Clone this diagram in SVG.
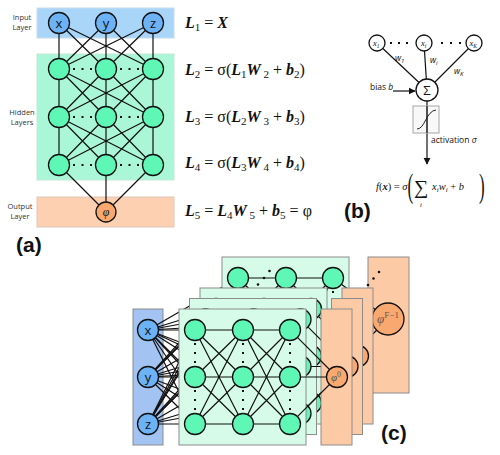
<svg xmlns="http://www.w3.org/2000/svg" xmlns:xlink="http://www.w3.org/1999/xlink" width="500" height="455" viewBox="0 0 500 455">
<style>
.ln{stroke:#111;stroke-width:1.2;fill:none}
.inbox{fill:#a9d5f8;stroke:#c9dcea;stroke-width:1}
.hbox{fill:#a9f7d7;stroke:#c8e8da;stroke-width:1}
.obox{fill:#fdd0b1;stroke:#e0c8b8;stroke-width:1}
.bnode{fill:#6cb2f4;stroke:#111;stroke-width:1.3}
.gnode{fill:#5ef7b6;stroke:#111;stroke-width:1.3}
.onode{fill:#f9a96f;stroke:#111;stroke-width:1.3}
.wnode{fill:#fff;stroke:#111;stroke-width:1.3}
.gb{fill:#d6fce9;stroke:#8c8c8c;stroke-width:1}
.ob{fill:#fdcaa6;stroke:#8c8c8c;stroke-width:1}
.cin{fill:#a3c3f3;stroke:#8c8c8c;stroke-width:1}
.side{font-family:"Open Sans","Liberation Sans",sans-serif;font-size:7.5px;fill:#333;text-anchor:middle}
.nl{font-family:"Open Sans","Liberation Sans",sans-serif;font-size:13px;fill:#111;text-anchor:middle}
.eq{font-family:"Liberation Serif",serif;font-size:16px;fill:#111}
.bi{font-weight:bold;font-style:italic}
.lab{font-family:"Liberation Sans",Arial,sans-serif;font-weight:bold;font-size:21px;fill:#111}
.sm{font-family:"Open Sans","Liberation Sans",sans-serif;font-size:8.5px;fill:#111}
.mi{font-family:"Liberation Serif",serif;font-style:italic;fill:#111}
.dot{fill:#111}
</style>
<defs>
<marker id="arr" viewBox="0 0 10 10" refX="9" refY="5" markerWidth="6" markerHeight="6" orient="auto">
<path d="M0,0L10,5L0,10z" fill="#111"/>
</marker>
<g id="lg">
<rect x="0" y="0" width="127" height="136" class="gb"/>
<path class="ln" d="M16,21L64,21M16,21L64,68M16,21L64,115M16,68L64,21M16,68L64,68M16,68L64,115M16,115L64,21M16,115L64,68M16,115L64,115M64,21L111,21M64,21L111,68M64,21L111,115M64,68L111,21M64,68L111,68M64,68L111,115M64,115L111,21M64,115L111,68M64,115L111,115"/>
<circle cx="16" cy="21" r="10.5" class="gnode"/><circle cx="64" cy="21" r="10.5" class="gnode"/><circle cx="111" cy="21" r="10.5" class="gnode"/>
<circle cx="16" cy="68" r="10.5" class="gnode"/><circle cx="64" cy="68" r="10.5" class="gnode"/><circle cx="111" cy="68" r="10.5" class="gnode"/>
<circle cx="16" cy="115" r="10.5" class="gnode"/><circle cx="64" cy="115" r="10.5" class="gnode"/><circle cx="111" cy="115" r="10.5" class="gnode"/>
<g class="dot">
<rect x="15" y="34" width="2" height="2"/><rect x="15" y="43" width="2" height="2"/><rect x="15" y="52" width="2" height="2"/>
<rect x="15" y="81" width="2" height="2"/><rect x="15" y="90" width="2" height="2"/><rect x="15" y="99" width="2" height="2"/>
<rect x="63" y="34" width="2" height="2"/><rect x="63" y="43" width="2" height="2"/><rect x="63" y="52" width="2" height="2"/>
<rect x="63" y="81" width="2" height="2"/><rect x="63" y="90" width="2" height="2"/><rect x="63" y="99" width="2" height="2"/>
<rect x="110" y="34" width="2" height="2"/><rect x="110" y="43" width="2" height="2"/><rect x="110" y="52" width="2" height="2"/>
<rect x="110" y="81" width="2" height="2"/><rect x="110" y="90" width="2" height="2"/><rect x="110" y="99" width="2" height="2"/>
</g>
</g>
<g id="lo">
<rect x="142" y="0" width="31" height="136" class="ob"/>
<path class="ln" d="M118.4,28.4L158,68M121.5,68L158,68M118.4,107.6L158,68"/>
<circle cx="158" cy="68" r="10.5" class="onode"/>
</g>
</defs>
<rect width="500" height="455" fill="#fff"/>

<!-- Panel (a) -->
<g id="a-boxes">
<rect x="37" y="8" width="137" height="30" class="inbox"/>
<rect x="37" y="54" width="137" height="126" class="hbox"/>
<rect x="37" y="197" width="137" height="30" class="obox"/>
<text class="side" x="22" y="19.5">Input</text><text class="side" x="22" y="30">Layer</text>
<text class="side" x="22" y="114.5">Hidden</text><text class="side" x="22" y="124.5">Layers</text>
<text class="side" x="20" y="209">Output</text><text class="side" x="20" y="219">Layer</text>
</g>
<g id="a-connectors">
<path class="ln" d="M59,23L59,69M59,23L106,69M59,23L153,69M106,23L59,69M106,23L106,69M106,23L153,69M153,23L59,69M153,23L106,69M153,23L153,69
M59,69L59,117M59,69L106,117M59,69L153,117M106,69L59,117M106,69L106,117M106,69L153,117M153,69L59,117M153,69L106,117M153,69L153,117
M59,117L59,165M59,117L106,165M59,117L153,165M106,117L59,165M106,117L106,165M106,117L153,165M153,117L59,165M153,117L106,165M153,117L153,165
M59,165L106,212M106,165L106,212M153,165L106,212"/>
</g>
<g id="a-in-x"><circle cx="59" cy="23" r="10.5" class="bnode"/><text class="nl" x="59" y="27.5">x</text></g>
<g id="a-in-y"><circle cx="106" cy="23" r="10.5" class="bnode"/><text class="nl" x="106" y="27.5">y</text></g>
<g id="a-in-z"><circle cx="153" cy="23" r="10.5" class="bnode"/><text class="nl" x="153" y="27.5">z</text></g>
<g id="a-hidden">
<circle cx="59" cy="69" r="10.5" class="gnode"/><circle cx="106" cy="69" r="10.5" class="gnode"/><circle cx="153" cy="69" r="10.5" class="gnode"/>
<circle cx="59" cy="117" r="10.5" class="gnode"/><circle cx="106" cy="117" r="10.5" class="gnode"/><circle cx="153" cy="117" r="10.5" class="gnode"/>
<circle cx="59" cy="165" r="10.5" class="gnode"/><circle cx="106" cy="165" r="10.5" class="gnode"/><circle cx="153" cy="165" r="10.5" class="gnode"/>
<g class="dot">
<rect x="73" y="68" width="2" height="2"/><rect x="81.5" y="68" width="2" height="2"/><rect x="90" y="68" width="2" height="2"/>
<rect x="120" y="68" width="2" height="2"/><rect x="128.5" y="68" width="2" height="2"/><rect x="137" y="68" width="2" height="2"/>
<rect x="73" y="116" width="2" height="2"/><rect x="81.5" y="116" width="2" height="2"/><rect x="90" y="116" width="2" height="2"/>
<rect x="120" y="116" width="2" height="2"/><rect x="128.5" y="116" width="2" height="2"/><rect x="137" y="116" width="2" height="2"/>
<rect x="73" y="164" width="2" height="2"/><rect x="81.5" y="164" width="2" height="2"/><rect x="90" y="164" width="2" height="2"/>
<rect x="120" y="164" width="2" height="2"/><rect x="128.5" y="164" width="2" height="2"/><rect x="137" y="164" width="2" height="2"/>
</g>
</g>
<g id="a-out"><circle cx="106" cy="212" r="10" class="onode"/><text class="mi" x="106" y="216" font-size="12" text-anchor="middle">φ</text></g>
<g id="a-eqs" class="eq">
<text x="185" y="28"><tspan class="bi">L</tspan><tspan font-size="11" dy="3">1</tspan><tspan dy="-3"> = </tspan><tspan class="bi">X</tspan></text>
<text x="185" y="75"><tspan class="bi">L</tspan><tspan font-size="11" dy="3">2</tspan><tspan dy="-3"> = σ(</tspan><tspan class="bi">L</tspan><tspan font-size="11" dy="3">1</tspan><tspan class="bi" dy="-3">W</tspan><tspan font-size="11" dy="3"> 2</tspan><tspan dy="-3"> + </tspan><tspan class="bi">b</tspan><tspan font-size="11" dy="3">2</tspan><tspan dy="-3">)</tspan></text>
<text x="185" y="122"><tspan class="bi">L</tspan><tspan font-size="11" dy="3">3</tspan><tspan dy="-3"> = σ(</tspan><tspan class="bi">L</tspan><tspan font-size="11" dy="3">2</tspan><tspan class="bi" dy="-3">W</tspan><tspan font-size="11" dy="3"> 3</tspan><tspan dy="-3"> + </tspan><tspan class="bi">b</tspan><tspan font-size="11" dy="3">3</tspan><tspan dy="-3">)</tspan></text>
<text x="185" y="168"><tspan class="bi">L</tspan><tspan font-size="11" dy="3">4</tspan><tspan dy="-3"> = σ(</tspan><tspan class="bi">L</tspan><tspan font-size="11" dy="3">3</tspan><tspan class="bi" dy="-3">W</tspan><tspan font-size="11" dy="3"> 4</tspan><tspan dy="-3"> + </tspan><tspan class="bi">b</tspan><tspan font-size="11" dy="3">4</tspan><tspan dy="-3">)</tspan></text>
<text x="185" y="216"><tspan class="bi">L</tspan><tspan font-size="11" dy="3">5</tspan><tspan dy="-3"> =  </tspan><tspan class="bi">L</tspan><tspan font-size="11" dy="3">4</tspan><tspan class="bi" dy="-3">W</tspan><tspan font-size="11" dy="3"> 5</tspan><tspan dy="-3"> +  </tspan><tspan class="bi">b</tspan><tspan font-size="11" dy="3">5</tspan><tspan dy="-3"> =  φ</tspan></text>
</g>
<text class="lab" x="16" y="252">(a)</text>

<!-- Panel (b) -->
<g id="b-connectors">
<path class="ln" d="M377,43L427,90M424,43L427,90M474,43L427,90"/>
<path class="ln" d="M393,91L415,91" marker-end="url(#arr)"/>
<path class="ln" d="M427,101L427,164" marker-end="url(#arr)"/>
</g>
<g id="b-act">
<rect x="413" y="106" width="26" height="27" fill="#f2f2f2" fill-opacity="0.5" stroke="#b5b5b5" stroke-width="1.2"/>
<path d="M417,129C425,129 426,111 436,110" fill="none" stroke="#222" stroke-width="1"/>
<path class="ln" d="M427,106L427,133"/>
</g>
<g id="b-x1"><circle cx="377" cy="43" r="8" class="wnode"/><text class="mi" x="373" y="46" font-size="8.5">x<tspan font-size="5.5" dy="1.5">1</tspan></text></g>
<g id="b-xi"><circle cx="424" cy="43" r="8" class="wnode"/><text class="mi" x="421" y="46" font-size="8.5">x<tspan font-size="5.5" dy="1.5">i</tspan></text></g>
<g id="b-xk"><circle cx="474" cy="43" r="8" class="wnode"/><text class="mi" x="469.5" y="46" font-size="8.5">x<tspan font-size="5.5" dy="1.5">K</tspan></text></g>
<g class="dot">
<rect x="390" y="42" width="2" height="2"/><rect x="398" y="42" width="2" height="2"/><rect x="406" y="42" width="2" height="2"/>
<rect x="441" y="42" width="2" height="2"/><rect x="450" y="42" width="2" height="2"/><rect x="459" y="42" width="2" height="2"/>
</g>
<g id="b-sum"><circle cx="427" cy="90" r="11" class="wnode"/><text x="427" y="95" font-family="Open Sans,Liberation Sans,sans-serif" font-size="13" text-anchor="middle" fill="#111">Σ</text></g>
<text class="sm" x="395" y="61" font-style="italic">w<tspan font-size="6" dy="1.5">1</tspan></text>
<text class="sm" x="430" y="63" font-style="italic">w<tspan font-size="6" dy="1.5">i</tspan></text>
<text class="sm" x="454" y="74" font-style="italic">w<tspan font-size="6" dy="1.5">K</tspan></text>
<text class="sm" x="370" y="90">bias <tspan font-style="italic">b</tspan></text>
<text class="sm" x="431" y="143">activation <tspan font-style="italic">σ</tspan></text>
<g id="b-formula">
<text class="mi" x="376" y="190" font-size="10.5">f<tspan font-style="normal">(</tspan><tspan font-weight="bold">x</tspan><tspan font-style="normal">) = </tspan>σ</text>
<text x="0" y="0" transform="translate(407.5,197) scale(0.5,1)" font-family="Liberation Serif,serif" font-size="34" fill="#111">(</text>
<text x="414" y="194" font-family="Liberation Serif,serif" font-size="20" fill="#111">∑</text>
<text class="mi" x="420" y="207" font-size="6.5">i</text>
<text class="mi" x="432" y="190" font-size="10.5">x<tspan font-size="7" dy="2">i</tspan><tspan dy="-2">w</tspan><tspan font-size="7" dy="2">i</tspan><tspan dy="-2" font-style="normal"> + </tspan>b</text>
<text x="0" y="0" transform="translate(479,197) scale(0.5,1)" font-family="Liberation Serif,serif" font-size="34" fill="#111">)</text>
</g>
<text class="lab" x="344" y="218">(b)</text>

<!-- Panel (c) -->
<rect id="c-inbox" x="133" y="309" width="30" height="136" class="cin"/>
<g id="c-conn-far">
<path class="ln" d="M148,330L238,278M148,330L238,325M148,330L238,372M148,377L238,278M148,377L238,325M148,377L238,372M148,424L238,278M148,424L238,325M148,424L238,372"/>
</g>
<g id="c-layer-far">
<use xlink:href="#lg" transform="translate(222,257)"/>
<rect x="368" y="257" width="41" height="136" class="ob"/>
<path class="ln" d="M341.4,284.3L388,319M341.5,324L388,319M340.5,366L388,319"/>
<circle cx="388" cy="319" r="16" class="onode"/>
<text x="388" y="323" font-family="Liberation Serif,serif" font-style="italic" font-size="13" fill="#6a5648" text-anchor="middle">φ<tspan font-size="9" dy="-5" font-style="normal">F−1</tspan></text>
<g class="dot">
<circle cx="258" cy="284.5" r="1.3"/><circle cx="264" cy="278" r="1.3"/><circle cx="269.5" cy="271" r="1.3"/>
<circle cx="368" cy="285" r="1.3"/><circle cx="373.5" cy="278.5" r="1.3"/><circle cx="379" cy="272" r="1.3"/>
</g>
</g>
<g id="c-conn-3">
<path class="ln" d="M148,330L216,309M148,330L216,356M148,330L216,403M148,377L216,309M148,377L216,356M148,377L216,403M148,424L216,309M148,424L216,356M148,424L216,403"/>
</g>
<g id="c-layer-3"><use xlink:href="#lg" transform="translate(200,288)"/><use xlink:href="#lo" transform="translate(200,288)"/></g>
<g id="c-conn-2">
<path class="ln" d="M148,330L205.5,319.5M148,330L205.5,366.5M148,330L205.5,413.5M148,377L205.5,319.5M148,377L205.5,366.5M148,377L205.5,413.5M148,424L205.5,319.5M148,424L205.5,366.5M148,424L205.5,413.5"/>
</g>
<g id="c-layer-2"><use xlink:href="#lg" transform="translate(189.5,298.5)"/><use xlink:href="#lo" transform="translate(189.5,298.5)"/></g>
<g id="c-conn-1">
<path class="ln" d="M148,330L195,330M148,330L195,377M148,330L195,424M148,377L195,330M148,377L195,377M148,377L195,424M148,424L195,330M148,424L195,377M148,424L195,424"/>
</g>
<g id="c-layer-1"><use xlink:href="#lg" transform="translate(179,309)"/><use xlink:href="#lo" transform="translate(179,309)"/>
<text x="336" y="381" font-family="Liberation Serif,serif" font-style="italic" font-size="11" fill="#555" text-anchor="middle">φ<tspan font-size="8" dy="-4" font-style="normal">0</tspan></text>
</g>
<g id="c-in-x"><circle cx="148" cy="330" r="10.5" class="bnode"/><text class="nl" x="148" y="334.5">x</text></g>
<g id="c-in-y"><circle cx="148" cy="377" r="10.5" class="bnode"/><text class="nl" x="148" y="381.5">y</text></g>
<g id="c-in-z"><circle cx="148" cy="424" r="10.5" class="bnode"/><text class="nl" x="148" y="428.5">z</text></g>
<text class="lab" x="381" y="440">(c)</text>
</svg>
